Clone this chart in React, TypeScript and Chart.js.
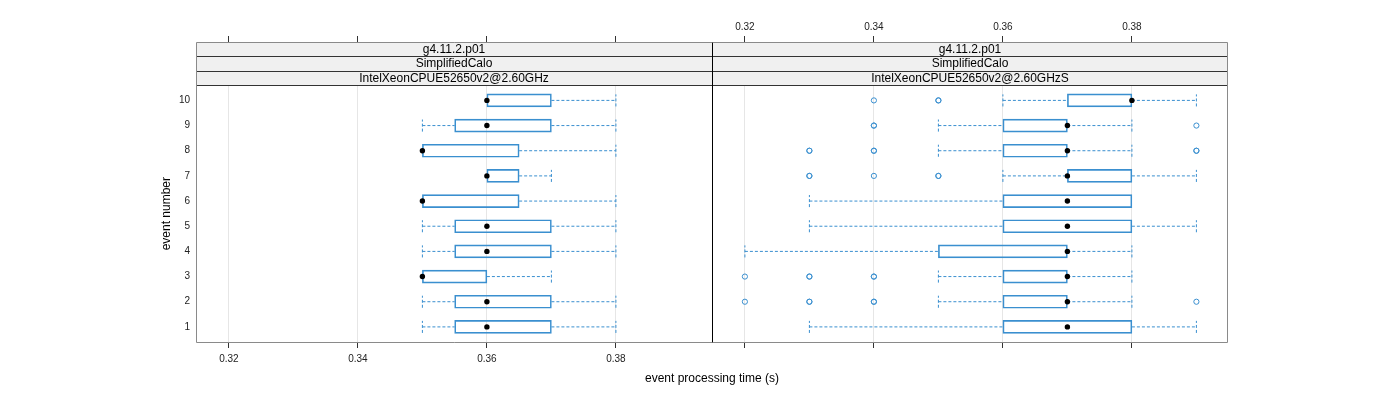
import React, { useEffect, useRef } from 'react';
import { Chart, registerables } from 'chart.js';

Chart.register(...registerables);

// ---------- data ----------
const events = [1, 2, 3, 4, 5, 6, 7, 8, 9, 10];
const xTickValues = [0.32, 0.34, 0.36, 0.38];

const stripLabelsLeft = ['g4.11.2.p01', 'SimplifiedCalo', 'IntelXeonCPUE52650v2@2.60GHz'];
const stripLabelsRight = ['g4.11.2.p01', 'SimplifiedCalo', 'IntelXeonCPUE52650v2@2.60GHzS'];

// left panel (events 1..10)
const leftLow = [0.35, 0.35, 0.35, 0.35, 0.35, 0.35, 0.36, 0.35, 0.35, 0.36];
const leftQ1 = [0.355, 0.355, 0.35, 0.355, 0.355, 0.35, 0.36, 0.35, 0.355, 0.36];
const leftMed = [0.36, 0.36, 0.35, 0.36, 0.36, 0.35, 0.36, 0.35, 0.36, 0.36];
const leftQ3 = [0.37, 0.37, 0.36, 0.37, 0.37, 0.365, 0.365, 0.365, 0.37, 0.37];
const leftHigh = [0.38, 0.38, 0.37, 0.38, 0.38, 0.38, 0.37, 0.38, 0.38, 0.38];
const leftOutliers: number[][] = [[], [], [], [], [], [], [], [], [], []];

// right panel (events 1..10)
const rightLow = [0.33, 0.35, 0.35, 0.32, 0.33, 0.33, 0.36, 0.35, 0.35, 0.36];
const rightQ1 = [0.36, 0.36, 0.36, 0.35, 0.36, 0.36, 0.37, 0.36, 0.36, 0.37];
const rightMed = [0.37, 0.37, 0.37, 0.37, 0.37, 0.37, 0.37, 0.37, 0.37, 0.38];
const rightQ3 = [0.38, 0.37, 0.37, 0.37, 0.38, 0.38, 0.38, 0.37, 0.37, 0.38];
const rightHigh = [0.39, 0.38, 0.38, 0.38, 0.39, 0.38, 0.39, 0.38, 0.38, 0.39];
const rightOutliers: number[][] = [
  [],
  [0.32, 0.33, 0.33, 0.34, 0.34, 0.39],
  [0.32, 0.33, 0.33, 0.34, 0.34],
  [],
  [],
  [],
  [0.33, 0.33, 0.34, 0.35, 0.35],
  [0.33, 0.33, 0.34, 0.34, 0.39, 0.39],
  [0.34, 0.34, 0.39],
  [0.34, 0.35, 0.35],
];

// ---------- layout / style ----------
const X_MIN = 0.3149;
const X_MAX = 0.3949;
const Y_MIN = 0.4;
const Y_PLOT_MAX = 10.6;
const CHART_H = 300; // strips + plot
const PLOT_H = 256.7;
const Y_TOP = Y_MIN + ((Y_PLOT_MAX - Y_MIN) * CHART_H) / PLOT_H;
const CAP_HALF = 0.24;
const FONT = '"Liberation Sans", Arial, Helvetica, sans-serif';
const BLUE = '#3a8fcf';
const FRAME = '#8a8a8a';

type PanelDef = {
  low: number[];
  q1: number[];
  med: number[];
  q3: number[];
  high: number[];
  outliers: number[][];
  strips: string[];
  showY: boolean;
  bottomLabels: boolean;
  topLabels: boolean;
  padRight: number;
  leftEdge: string | null;
  yTitle: string | null;
};

function whiskerPoints(p: PanelDef) {
  const pts: { x: number | null; y: number }[] = [];
  events.forEach((e, i) => {
    if (p.low[i] < p.q1[i]) {
      pts.push({ x: p.low[i], y: e - CAP_HALF }, { x: p.low[i], y: e + CAP_HALF }, { x: null, y: e });
      pts.push({ x: p.low[i], y: e }, { x: p.q1[i], y: e }, { x: null, y: e });
    }
    if (p.high[i] > p.q3[i]) {
      pts.push({ x: p.q3[i], y: e }, { x: p.high[i], y: e }, { x: null, y: e });
      pts.push({ x: p.high[i], y: e - CAP_HALF }, { x: p.high[i], y: e + CAP_HALF }, { x: null, y: e });
    }
  });
  return pts;
}

function panelPlugin(p: PanelDef) {
  return {
    id: 'panelDecor',
    beforeDatasetsDraw(chart: any) {
      const { ctx, chartArea } = chart;
      const yS = chart.scales.y;
      const plotTop = yS.getPixelForValue(Y_PLOT_MAX);
      const top = chartArea.top;
      const h = (plotTop - top) / p.strips.length;
      ctx.save();
      ctx.fillStyle = '#f0f0f0';
      ctx.fillRect(chartArea.left, top, chartArea.right - chartArea.left, plotTop - top);
      ctx.strokeStyle = '#333';
      ctx.lineWidth = 1;
      for (let k = 1; k <= p.strips.length; k++) {
        const yy = Math.round(top + h * k) + 0.5;
        ctx.beginPath();
        ctx.moveTo(chartArea.left, yy);
        ctx.lineTo(chartArea.right, yy);
        ctx.stroke();
      }
      ctx.fillStyle = '#000';
      ctx.font = '12px ' + FONT;
      ctx.textAlign = 'center';
      ctx.textBaseline = 'middle';
      p.strips.forEach((s, k) => {
        ctx.fillText(s, (chartArea.left + chartArea.right) / 2, top + h * k + h / 2 + 0.5);
      });
      ctx.restore();
    },
    afterDraw(chart: any) {
      const { ctx, chartArea } = chart;
      const L = Math.round(chartArea.left) + 0.5;
      const R = Math.round(chartArea.right) - 0.5;
      const T = Math.round(chartArea.top) + 0.5;
      const B = Math.round(chartArea.bottom) + 0.5;
      ctx.save();
      ctx.lineWidth = 1;
      ctx.strokeStyle = FRAME;
      ctx.beginPath();
      ctx.moveTo(L, T);
      ctx.lineTo(p.leftEdge ? R : chartArea.right, T);
      ctx.moveTo(L, B);
      ctx.lineTo(p.leftEdge ? R : chartArea.right, B);
      if (p.leftEdge) {
        ctx.moveTo(R, T);
        ctx.lineTo(R, B);
      } else {
        ctx.moveTo(L, T);
        ctx.lineTo(L, B);
      }
      ctx.stroke();
      if (p.leftEdge) {
        ctx.strokeStyle = p.leftEdge;
        ctx.beginPath();
        ctx.moveTo(L, T);
        ctx.lineTo(L, B);
        ctx.stroke();
      }
      if (p.yTitle) {
        const yS = chart.scales.y;
        const cy = (yS.getPixelForValue(Y_MIN) + yS.getPixelForValue(Y_PLOT_MAX)) / 2;
        ctx.translate(167, cy);
        ctx.rotate(-Math.PI / 2);
        ctx.fillStyle = '#000';
        ctx.font = '12px ' + FONT;
        ctx.textAlign = 'center';
        ctx.textBaseline = 'middle';
        ctx.fillText(p.yTitle, 0, 0);
      }
      ctx.restore();
    },
  };
}

function makeConfig(p: PanelDef): any {
  const outlierPts: { x: number; y: number }[] = [];
  events.forEach((e, i) => p.outliers[i].forEach((v) => outlierPts.push({ x: v, y: e })));
  const tickFont = { size: 10, family: FONT };
  const zeroHPad = (s: any) => {
    s.paddingLeft = 0;
    s.paddingRight = 0;
  };
  return {
    type: 'bar',
    data: {
      datasets: [
        {
          type: 'scatter',
          data: events.map((e, i) => ({ x: p.med[i], y: e })),
          pointRadius: 2.7,
          pointHoverRadius: 2.7,
          pointBackgroundColor: '#000',
          pointBorderColor: '#000',
          pointBorderWidth: 0,
        },
        {
          type: 'scatter',
          data: outlierPts,
          pointRadius: 2.6,
          pointHoverRadius: 2.6,
          pointBackgroundColor: 'rgba(0,0,0,0)',
          pointBorderColor: BLUE,
          pointBorderWidth: 1,
        },
        {
          type: 'bar',
          data: events.map((e, i) => ({ x: [p.q1[i], p.q3[i]], y: e })),
          backgroundColor: 'rgba(0,0,0,0)',
          borderColor: BLUE,
          borderWidth: 1,
          borderSkipped: false,
          barThickness: 13,
        },
        {
          type: 'line',
          data: whiskerPoints(p),
          borderColor: BLUE,
          borderWidth: 1,
          borderDash: [3, 2],
          pointRadius: 0,
          spanGaps: false,
          tension: 0,
          fill: false,
        },
      ],
    },
    options: {
      responsive: false,
      animation: false,
      indexAxis: 'y',
      events: [],
      layout: { autoPadding: false, padding: { left: 0, right: p.padRight, top: 0, bottom: 0 } },
      plugins: { legend: { display: false }, tooltip: { enabled: false } },
      scales: {
        x: {
          type: 'linear',
          position: 'bottom',
          offset: false,
          min: X_MIN,
          max: X_MAX,
          afterBuildTicks: (s: any) => {
            s.ticks = xTickValues.map((v) => ({ value: v }));
          },
          afterFit: (s: any) => {
            s.height = 58;
            zeroHPad(s);
          },
          grid: { color: '#e6e6e6', tickColor: '#333', tickLength: 6, drawOnChartArea: true, offset: false },
          border: { display: false },
          ticks: {
            display: p.bottomLabels,
            font: tickFont,
            color: '#222',
            padding: 5,
            maxRotation: 0,
            autoSkip: false,
            callback: (v: any) => Number(v).toFixed(2),
          },
        },
        x2: {
          type: 'linear',
          axis: 'x',
          position: 'top',
          offset: false,
          min: X_MIN,
          max: X_MAX,
          afterBuildTicks: (s: any) => {
            s.ticks = xTickValues.map((v) => ({ value: v }));
          },
          afterFit: (s: any) => {
            s.height = 42;
            zeroHPad(s);
          },
          grid: { drawOnChartArea: false, tickColor: '#333', tickLength: 6, offset: false },
          border: { display: false },
          ticks: {
            display: p.topLabels,
            font: tickFont,
            color: '#222',
            padding: 3,
            maxRotation: 0,
            autoSkip: false,
            callback: (v: any) => Number(v).toFixed(2),
          },
        },
        y: {
          type: 'linear',
          position: 'left',
          display: p.showY,
          offset: false,
          min: Y_MIN,
          max: Y_TOP,
          afterBuildTicks: (s: any) => {
            s.ticks = events.map((v) => ({ value: v }));
          },
          afterFit: (s: any) => {
            if (p.showY) s.width = 196;
            s.paddingTop = 0;
            s.paddingBottom = 0;
          },
          grid: { display: false, drawTicks: false, offset: false },
          border: { display: false },
          ticks: { font: tickFont, color: '#222', padding: 6, autoSkip: false, callback: (v: any) => String(v) },
        },
      },
    },
    plugins: [panelPlugin(p)],
  };
}

const leftPanel: PanelDef = {
  low: leftLow,
  q1: leftQ1,
  med: leftMed,
  q3: leftQ3,
  high: leftHigh,
  outliers: leftOutliers,
  strips: stripLabelsLeft,
  showY: true,
  bottomLabels: true,
  topLabels: false,
  padRight: 0,
  leftEdge: null,
  yTitle: 'event number',
};

const rightPanel: PanelDef = {
  low: rightLow,
  q1: rightQ1,
  med: rightMed,
  q3: rightQ3,
  high: rightHigh,
  outliers: rightOutliers,
  strips: stripLabelsRight,
  showY: false,
  bottomLabels: false,
  topLabels: true,
  padRight: 172,
  leftEdge: '#000',
  yTitle: null,
};

export default function App() {
  const leftRef = useRef<HTMLCanvasElement>(null);
  const rightRef = useRef<HTMLCanvasElement>(null);

  useEffect(() => {
    const c1 = new Chart(leftRef.current as HTMLCanvasElement, makeConfig(leftPanel));
    const c2 = new Chart(rightRef.current as HTMLCanvasElement, makeConfig(rightPanel));
    return () => {
      c1.destroy();
      c2.destroy();
    };
  }, []);

  return (
    <div style={{ position: 'absolute', left: 0, top: 0, width: 1400, height: 400, background: '#fff', overflow: 'hidden' }}>
      <canvas ref={leftRef} width={712} height={400} style={{ position: 'absolute', left: 0, top: 0, width: 712, height: 400 }} />
      <canvas ref={rightRef} width={688} height={400} style={{ position: 'absolute', left: 712, top: 0, width: 688, height: 400 }} />
      <div
        style={{
          position: 'absolute',
          left: 512,
          top: 370,
          width: 400,
          textAlign: 'center',
          fontFamily: FONT,
          fontSize: 12,
          lineHeight: '16px',
          color: '#000',
        }}
      >
        event processing time (s)
      </div>
    </div>
  );
}
